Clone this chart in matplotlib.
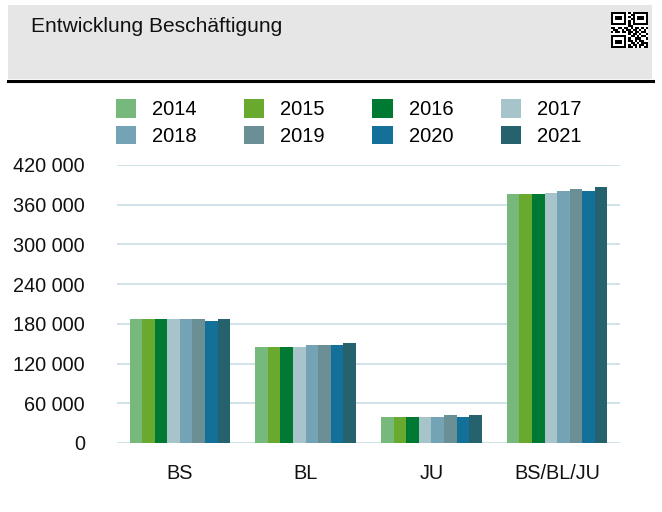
import matplotlib
matplotlib.use("Agg")
import matplotlib.pyplot as plt
import numpy as np
from matplotlib.patches import Rectangle
from matplotlib.ticker import FuncFormatter, FixedLocator

plt.rcParams['font.family'] = ['Liberation Sans', 'DejaVu Sans']

categories = ["BS", "BL", "JU", "BS/BL/JU"]
years = ["2014", "2015", "2016", "2017", "2018", "2019", "2020", "2021"]
values = {
    "2014": [188000, 145000, 39700, 375800],
    "2015": [188000, 145000, 39700, 375800],
    "2016": [188000, 145000, 39700, 375800],
    "2017": [188000, 145500, 39700, 378200],
    "2018": [188000, 148000, 39900, 381200],
    "2019": [188000, 148000, 42300, 383800],
    "2020": [184300, 148000, 39700, 381200],
    "2021": [187800, 151000, 42300, 387300],
}
colors = ["#77b97c", "#69aa2e", "#007a33", "#a8c4cb", "#73a3b5",
          "#6a8f95", "#127099", "#25626e"]
yticks = [0, 60000, 120000, 180000, 240000, 300000, 360000, 420000]

W, H = 662, 512
fig = plt.figure(figsize=(W / 100, H / 100), dpi=100)

# header banner
fig.patches.append(Rectangle((8 / W, 1 - 79 / H), 644 / W, 74 / H,
                             transform=fig.transFigure, facecolor="#e6e6e6",
                             edgecolor="none", zorder=-5))
fig.add_artist(plt.Line2D([8 / W, 653 / W], [1 - 80.5 / H, 1 - 80.5 / H],
                          transform=fig.transFigure, color="black", lw=2.2))
fig.text(31 / W, 1 - 32.5 / H, "Entwicklung Beschäftigung", fontsize=15.1,
         ha="left", va="baseline", color="#111111")

# QR-like decoration
qr = np.array([
    [1,1,1,1,1,1,1,0,1,0,1,1,1,1,1,1,1],
    [1,0,0,0,0,0,1,0,0,1,1,0,0,0,0,0,1],
    [1,0,1,1,1,0,1,0,1,0,1,0,1,1,1,0,1],
    [1,0,1,1,1,0,1,0,0,1,1,0,1,1,1,0,1],
    [1,0,0,0,0,0,1,0,1,0,1,0,0,0,0,0,1],
    [1,1,1,1,1,1,1,0,1,0,1,1,1,1,1,1,1],
    [0,0,0,0,0,0,0,0,1,1,0,0,0,0,0,0,0],
    [1,1,0,1,1,0,1,1,0,1,0,1,1,0,1,0,1],
    [0,1,1,0,0,1,0,1,1,0,1,1,0,1,0,1,0],
    [1,0,1,1,0,1,1,0,1,1,0,1,1,0,1,1,0],
    [0,0,0,0,0,0,0,0,1,0,1,1,0,1,0,0,1],
    [1,1,1,1,1,1,1,0,0,1,1,0,1,0,1,1,0],
    [1,0,0,0,0,0,1,0,1,0,0,1,1,1,0,0,1],
    [1,0,1,1,1,0,1,0,1,1,0,1,0,1,1,0,0],
    [1,0,1,1,1,0,1,0,0,1,1,0,1,0,1,1,1],
    [1,0,0,0,0,0,1,0,1,0,1,1,0,1,1,0,1],
    [1,1,1,1,1,1,1,0,1,1,0,1,0,1,0,1,1],
])
qax = fig.add_axes([611 / W, 1 - 48 / H, 37 / W, 36 / H], zorder=5)
qax.imshow(1 - qr, cmap="gray", interpolation="nearest", vmin=0, vmax=1,
           aspect="auto")
qax.axis("off")

# main chart
ax = fig.add_axes([117 / W, 1 - 443 / H, 503 / W, 278 / H])
n = len(years)
group_w = 0.8
bw = group_w / n
x = np.arange(len(categories))
for i, (yr, c) in enumerate(zip(years, colors)):
    ax.bar(x - group_w / 2 + bw * (i + 0.5), values[yr], width=bw, color=c,
           label=yr, zorder=3, linewidth=0)

ax.set_xlim(-0.5, len(categories) - 0.5)
ax.set_ylim(0, 420000)
ax.yaxis.set_major_locator(FixedLocator(yticks))
ax.yaxis.set_major_formatter(FuncFormatter(lambda v, p: f"{int(v):,}".replace(",", " ")))
ax.set_xticks(x)
ax.set_xticklabels(categories)
ax.tick_params(axis="both", length=0, labelsize=14.3, colors="#111111")
ax.tick_params(axis="y", pad=23)
ax.tick_params(axis="x", pad=15)
ax.grid(axis="y", color="#c9dde5", lw=1.2, zorder=0)
for s in ax.spines.values():
    s.set_visible(False)

handles, labels = ax.get_legend_handles_labels()
order = [0, 4, 1, 5, 2, 6, 3, 7]
fig.legend([handles[k] for k in order], [labels[k] for k in order],
           loc="upper left", bbox_to_anchor=(116 / W, 1 - 99.5 / H), ncol=4,
           frameon=False, fontsize=14.5, handlelength=1.0, handleheight=1.0,
           handletextpad=0.8, columnspacing=2.35, labelspacing=0.32,
           borderpad=0, borderaxespad=0)

fig.savefig("out.png", dpi=100)
